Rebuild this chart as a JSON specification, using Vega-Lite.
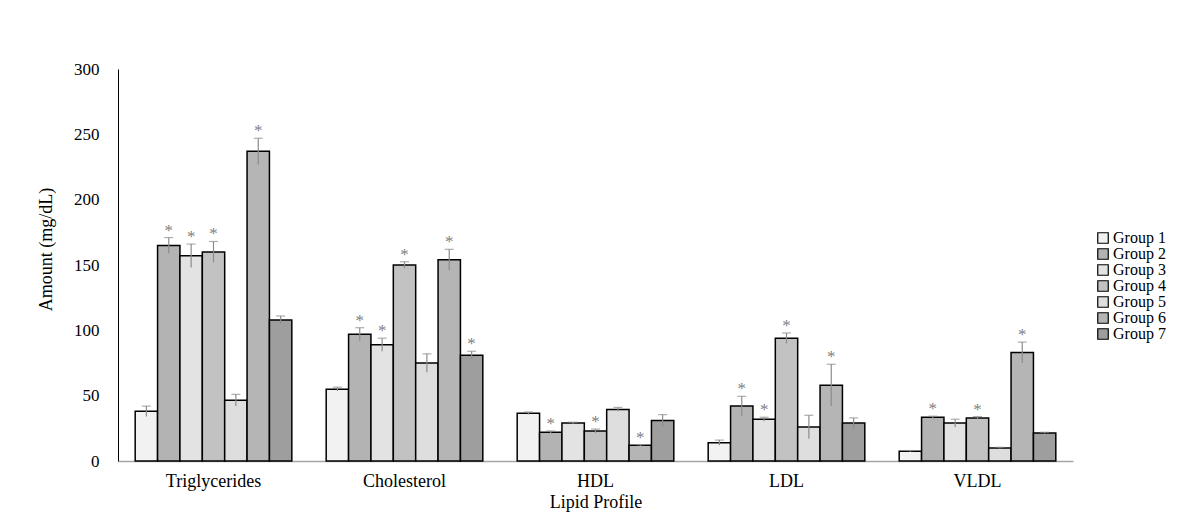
{
  "$schema": "https://vega.github.io/schema/vega-lite/v6.json",
  "autosize": "none",
  "width": 955,
  "height": 392,
  "padding": {"left": 118, "top": 69, "right": 127, "bottom": 61},
  "background": "white",
  "config": {
    "view": {"stroke": null},
    "font": "Liberation Serif",
    "text": {"font": "Liberation Serif"}
  },
  "data": {
    "values": [
      {"lipid": "Triglycerides", "group": "Group 1", "mean": 38, "lo": 34, "hi": 42, "sig": 0},
      {"lipid": "Triglycerides", "group": "Group 2", "mean": 165, "lo": 159, "hi": 171, "sig": 1},
      {"lipid": "Triglycerides", "group": "Group 3", "mean": 157, "lo": 148, "hi": 166, "sig": 1},
      {"lipid": "Triglycerides", "group": "Group 4", "mean": 160, "lo": 152, "hi": 168, "sig": 1},
      {"lipid": "Triglycerides", "group": "Group 5", "mean": 46.5, "lo": 42, "hi": 51, "sig": 0},
      {"lipid": "Triglycerides", "group": "Group 6", "mean": 237, "lo": 227, "hi": 247, "sig": 1},
      {"lipid": "Triglycerides", "group": "Group 7", "mean": 108, "lo": 105, "hi": 111, "sig": 0},
      {"lipid": "Cholesterol", "group": "Group 1", "mean": 55, "lo": 53.5, "hi": 56.5, "sig": 0},
      {"lipid": "Cholesterol", "group": "Group 2", "mean": 97, "lo": 92, "hi": 102, "sig": 1},
      {"lipid": "Cholesterol", "group": "Group 3", "mean": 89, "lo": 84, "hi": 94, "sig": 1},
      {"lipid": "Cholesterol", "group": "Group 4", "mean": 150, "lo": 147.5, "hi": 152.5, "sig": 1},
      {"lipid": "Cholesterol", "group": "Group 5", "mean": 75, "lo": 68, "hi": 82, "sig": 0},
      {"lipid": "Cholesterol", "group": "Group 6", "mean": 154, "lo": 146, "hi": 162, "sig": 1},
      {"lipid": "Cholesterol", "group": "Group 7", "mean": 81, "lo": 78, "hi": 84, "sig": 1},
      {"lipid": "HDL", "group": "Group 1", "mean": 36.5, "lo": 35.5, "hi": 37.5, "sig": 0},
      {"lipid": "HDL", "group": "Group 2", "mean": 22, "lo": 21, "hi": 23, "sig": 1},
      {"lipid": "HDL", "group": "Group 3", "mean": 29, "lo": 28.3, "hi": 29.7, "sig": 0},
      {"lipid": "HDL", "group": "Group 4", "mean": 23, "lo": 21.5, "hi": 24.5, "sig": 1},
      {"lipid": "HDL", "group": "Group 5", "mean": 39.5, "lo": 38, "hi": 41, "sig": 0},
      {"lipid": "HDL", "group": "Group 6", "mean": 12, "lo": 11.5, "hi": 12.5, "sig": 1},
      {"lipid": "HDL", "group": "Group 7", "mean": 31, "lo": 26.5, "hi": 35.5, "sig": 0},
      {"lipid": "LDL", "group": "Group 1", "mean": 14, "lo": 12, "hi": 16, "sig": 0},
      {"lipid": "LDL", "group": "Group 2", "mean": 42, "lo": 34.5, "hi": 49.5, "sig": 1},
      {"lipid": "LDL", "group": "Group 3", "mean": 32, "lo": 30.5, "hi": 33.5, "sig": 1},
      {"lipid": "LDL", "group": "Group 4", "mean": 94, "lo": 90, "hi": 98, "sig": 1},
      {"lipid": "LDL", "group": "Group 5", "mean": 26, "lo": 17, "hi": 35, "sig": 0},
      {"lipid": "LDL", "group": "Group 6", "mean": 58, "lo": 42, "hi": 74, "sig": 1},
      {"lipid": "LDL", "group": "Group 7", "mean": 29, "lo": 25, "hi": 33, "sig": 0},
      {"lipid": "VLDL", "group": "Group 1", "mean": 7.5, "lo": 7, "hi": 8, "sig": 0},
      {"lipid": "VLDL", "group": "Group 2", "mean": 33.5, "lo": 32.7, "hi": 34.3, "sig": 1},
      {"lipid": "VLDL", "group": "Group 3", "mean": 29, "lo": 26, "hi": 32, "sig": 0},
      {"lipid": "VLDL", "group": "Group 4", "mean": 33, "lo": 32, "hi": 34, "sig": 1},
      {"lipid": "VLDL", "group": "Group 5", "mean": 10, "lo": 9.5, "hi": 10.5, "sig": 0},
      {"lipid": "VLDL", "group": "Group 6", "mean": 83, "lo": 75, "hi": 91, "sig": 1},
      {"lipid": "VLDL", "group": "Group 7", "mean": 21.5, "lo": 21, "hi": 22, "sig": 0}
    ]
  },
  "encoding": {
    "x": {
      "field": "lipid",
      "type": "nominal",
      "sort": ["Triglycerides", "Cholesterol", "HDL", "LDL", "VLDL"],
      "scale": {"paddingInner": 0.18, "paddingOuter": 0.09},
      "axis": {
        "title": "Lipid Profile",
        "labelAngle": 0,
        "labelFont": "Liberation Serif",
        "labelFontSize": 18,
        "labelColor": "#000",
        "labelPadding": 11,
        "ticks": false,
        "domainColor": "#a6a6a6",
        "domainWidth": 1.5,
        "titleFont": "Liberation Serif",
        "titleFontSize": 18,
        "titleFontWeight": "normal",
        "titleColor": "#000",
        "titleY": 41,
        "titleBaseline": "middle"
      }
    },
    "xOffset": {
      "field": "group",
      "type": "nominal",
      "scale": {"paddingInner": 0, "paddingOuter": 0}
    }
  },
  "layer": [
    {
      "mark": {"type": "bar", "stroke": "#000", "strokeWidth": 1.5},
      "encoding": {
        "y": {
          "field": "mean",
          "type": "quantitative",
          "scale": {"domain": [0, 300]},
          "axis": {
            "title": "Amount (mg/dL)",
            "values": [0, 50, 100, 150, 200, 250, 300],
            "grid": false,
            "ticks": false,
            "labelPadding": 19,
            "labelFont": "Liberation Serif",
            "labelFontSize": 17,
            "labelColor": "#000",
            "domainColor": "#000",
            "domainWidth": 1,
            "titleFont": "Liberation Serif",
            "titleFontSize": 18,
            "titleFontWeight": "normal",
            "titleColor": "#000",
            "titleX": -72,
            "titleY": 180,
            "titleBaseline": "middle"
          }
        },
        "fill": {
          "field": "group",
          "type": "nominal",
          "scale": {"range": ["#f2f2f2", "#b3b3b3", "#e3e3e3", "#c2c2c2", "#dedede", "#b5b5b5", "#9e9e9e"]},
          "legend": {
            "title": null,
            "orient": "none",
            "legendX": 977,
            "legendY": 161,
            "symbolType": "square",
            "symbolSize": 110,
            "symbolStrokeColor": "#000",
            "symbolStrokeWidth": 1.2,
            "labelFont": "Liberation Serif",
            "labelFontSize": 16,
            "labelColor": "#000",
            "labelOffset": 2,
            "rowPadding": 0
          }
        }
      }
    },
    {
      "mark": {"type": "rule", "color": "#8c8c8c", "strokeWidth": 1.2},
      "encoding": {
        "y": {"field": "lo", "type": "quantitative"},
        "y2": {"field": "hi"}
      }
    },
    {
      "mark": {"type": "tick", "color": "#8c8c8c", "size": 9, "thickness": 1.2, "orient": "horizontal"},
      "encoding": {
        "y": {"field": "hi", "type": "quantitative"}
      }
    },
    {
      "transform": [{"filter": "datum.sig == 1"}],
      "mark": {"type": "text", "text": "*", "color": "#7f7f7f", "fontSize": 17, "font": "Liberation Serif", "baseline": "middle", "dy": -7},
      "encoding": {
        "y": {"field": "hi", "type": "quantitative"}
      }
    }
  ]
}
